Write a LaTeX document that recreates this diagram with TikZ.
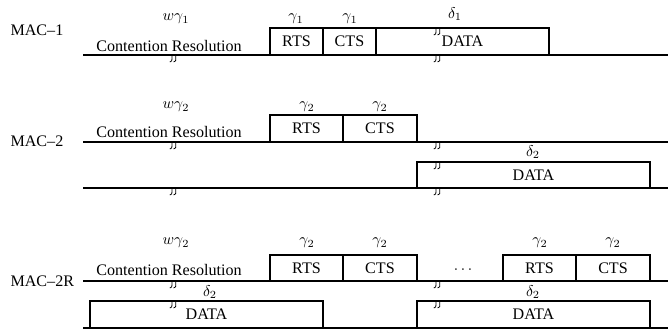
\documentclass[tikz,border=0pt]{standalone}
\usepackage{fontspec}
\setmainfont{Liberation Serif}

\tikzset{
  cutmark/.pic={
    \draw[line width=0.5pt] (0.8,-0.5) .. controls (-3.5,-0.5) and (1.5,7) .. (-3.2,7);
    \draw[line width=0.5pt] (4.6,-0.5) .. controls (0.3,-0.5) and (5.3,7) .. (0.6,7);
  },
  lbl/.style={inner sep=0pt}
}

\begin{document}
\begin{tikzpicture}[x=0.64pt,y=-0.64pt,line width=0.7pt,font=\fontsize{10.3}{12}\selectfont]
\useasboundingbox (0,0) rectangle (668,329);

% MAC-1
\node[lbl,anchor=west] (mac1) at (10,30) {MAC--1};
\draw (83,55) -- (668,55);
\node[lbl] (cr1) at (169,46) {Contention Resolution};
\node[lbl] (w1) at (176,19) {$w\gamma_1$};
\draw (270,28) rectangle (323,55) node[midway] (rts1) {RTS};
\draw (323,28) rectangle (376,55) node[midway] (cts1) {CTS};
\draw (376,28) rectangle (549,55) node[midway] (data1) {DATA};
\node[lbl] at (296,19) {$\gamma_1$};
\node[lbl] at (350,19) {$\gamma_1$};
\node[lbl] at (455,14) {$\delta_1$};
\pic at (173,55) {cutmark};
\pic at (437,28) {cutmark};
\pic at (437,55) {cutmark};

% MAC-2
\node[lbl,anchor=west] (mac2) at (10,141) {MAC--2};
\draw (83,142) -- (668,142);
\draw (83,188) -- (668,188);
\node[lbl] (cr2) at (169,132) {Contention Resolution};
\node[lbl] (w2) at (176,107) {$w\gamma_2$};
\draw (270,115) rectangle (343,142) node[midway] (rts2) {RTS};
\draw (343,115) rectangle (417,142) node[midway] (cts2) {CTS};
\draw (417,162) rectangle (650,188) node[midway] (data2) {DATA};
\node[lbl] at (307,107) {$\gamma_2$};
\node[lbl] at (380,107) {$\gamma_2$};
\node[lbl] at (533,152) {$\delta_2$};
\pic at (173,142) {cutmark};
\pic at (173,188) {cutmark};
\pic at (437,142) {cutmark};
\pic at (437,162) {cutmark};
\pic at (437,188) {cutmark};

% MAC-2R
\node[lbl,anchor=west] (mac2r) at (10,281) {MAC--2R};
\draw (83,281) -- (668,281);
\draw (83,328) -- (668,328);
\node[lbl] (cr3) at (169,270) {Contention Resolution};
\node[lbl] (w3) at (176,243) {$w\gamma_2$};
\draw (270,255) rectangle (343,281) node[midway] (rts3) {RTS};
\draw (343,255) rectangle (417,281) node[midway] (cts3) {CTS};
\node[lbl] (dots) at (463,270) {$\cdots$};
\draw (503,255) rectangle (576,281) node[midway] (rts4) {RTS};
\draw (576,255) rectangle (650,281) node[midway] (cts4) {CTS};
\draw (90,301) rectangle (323,328) node[midway] (data3) {DATA};
\draw (417,301) rectangle (650,328) node[midway] (data4) {DATA};
\node[lbl] at (307,243) {$\gamma_2$};
\node[lbl] at (380,243) {$\gamma_2$};
\node[lbl] at (540,243) {$\gamma_2$};
\node[lbl] at (613,243) {$\gamma_2$};
\node[lbl] at (210,292) {$\delta_2$};
\node[lbl] at (533,292) {$\delta_2$};
\foreach \y in {281,301,328} {
  \pic at (173,\y) {cutmark};
  \pic at (437,\y) {cutmark};
}

\end{tikzpicture}
\end{document}
